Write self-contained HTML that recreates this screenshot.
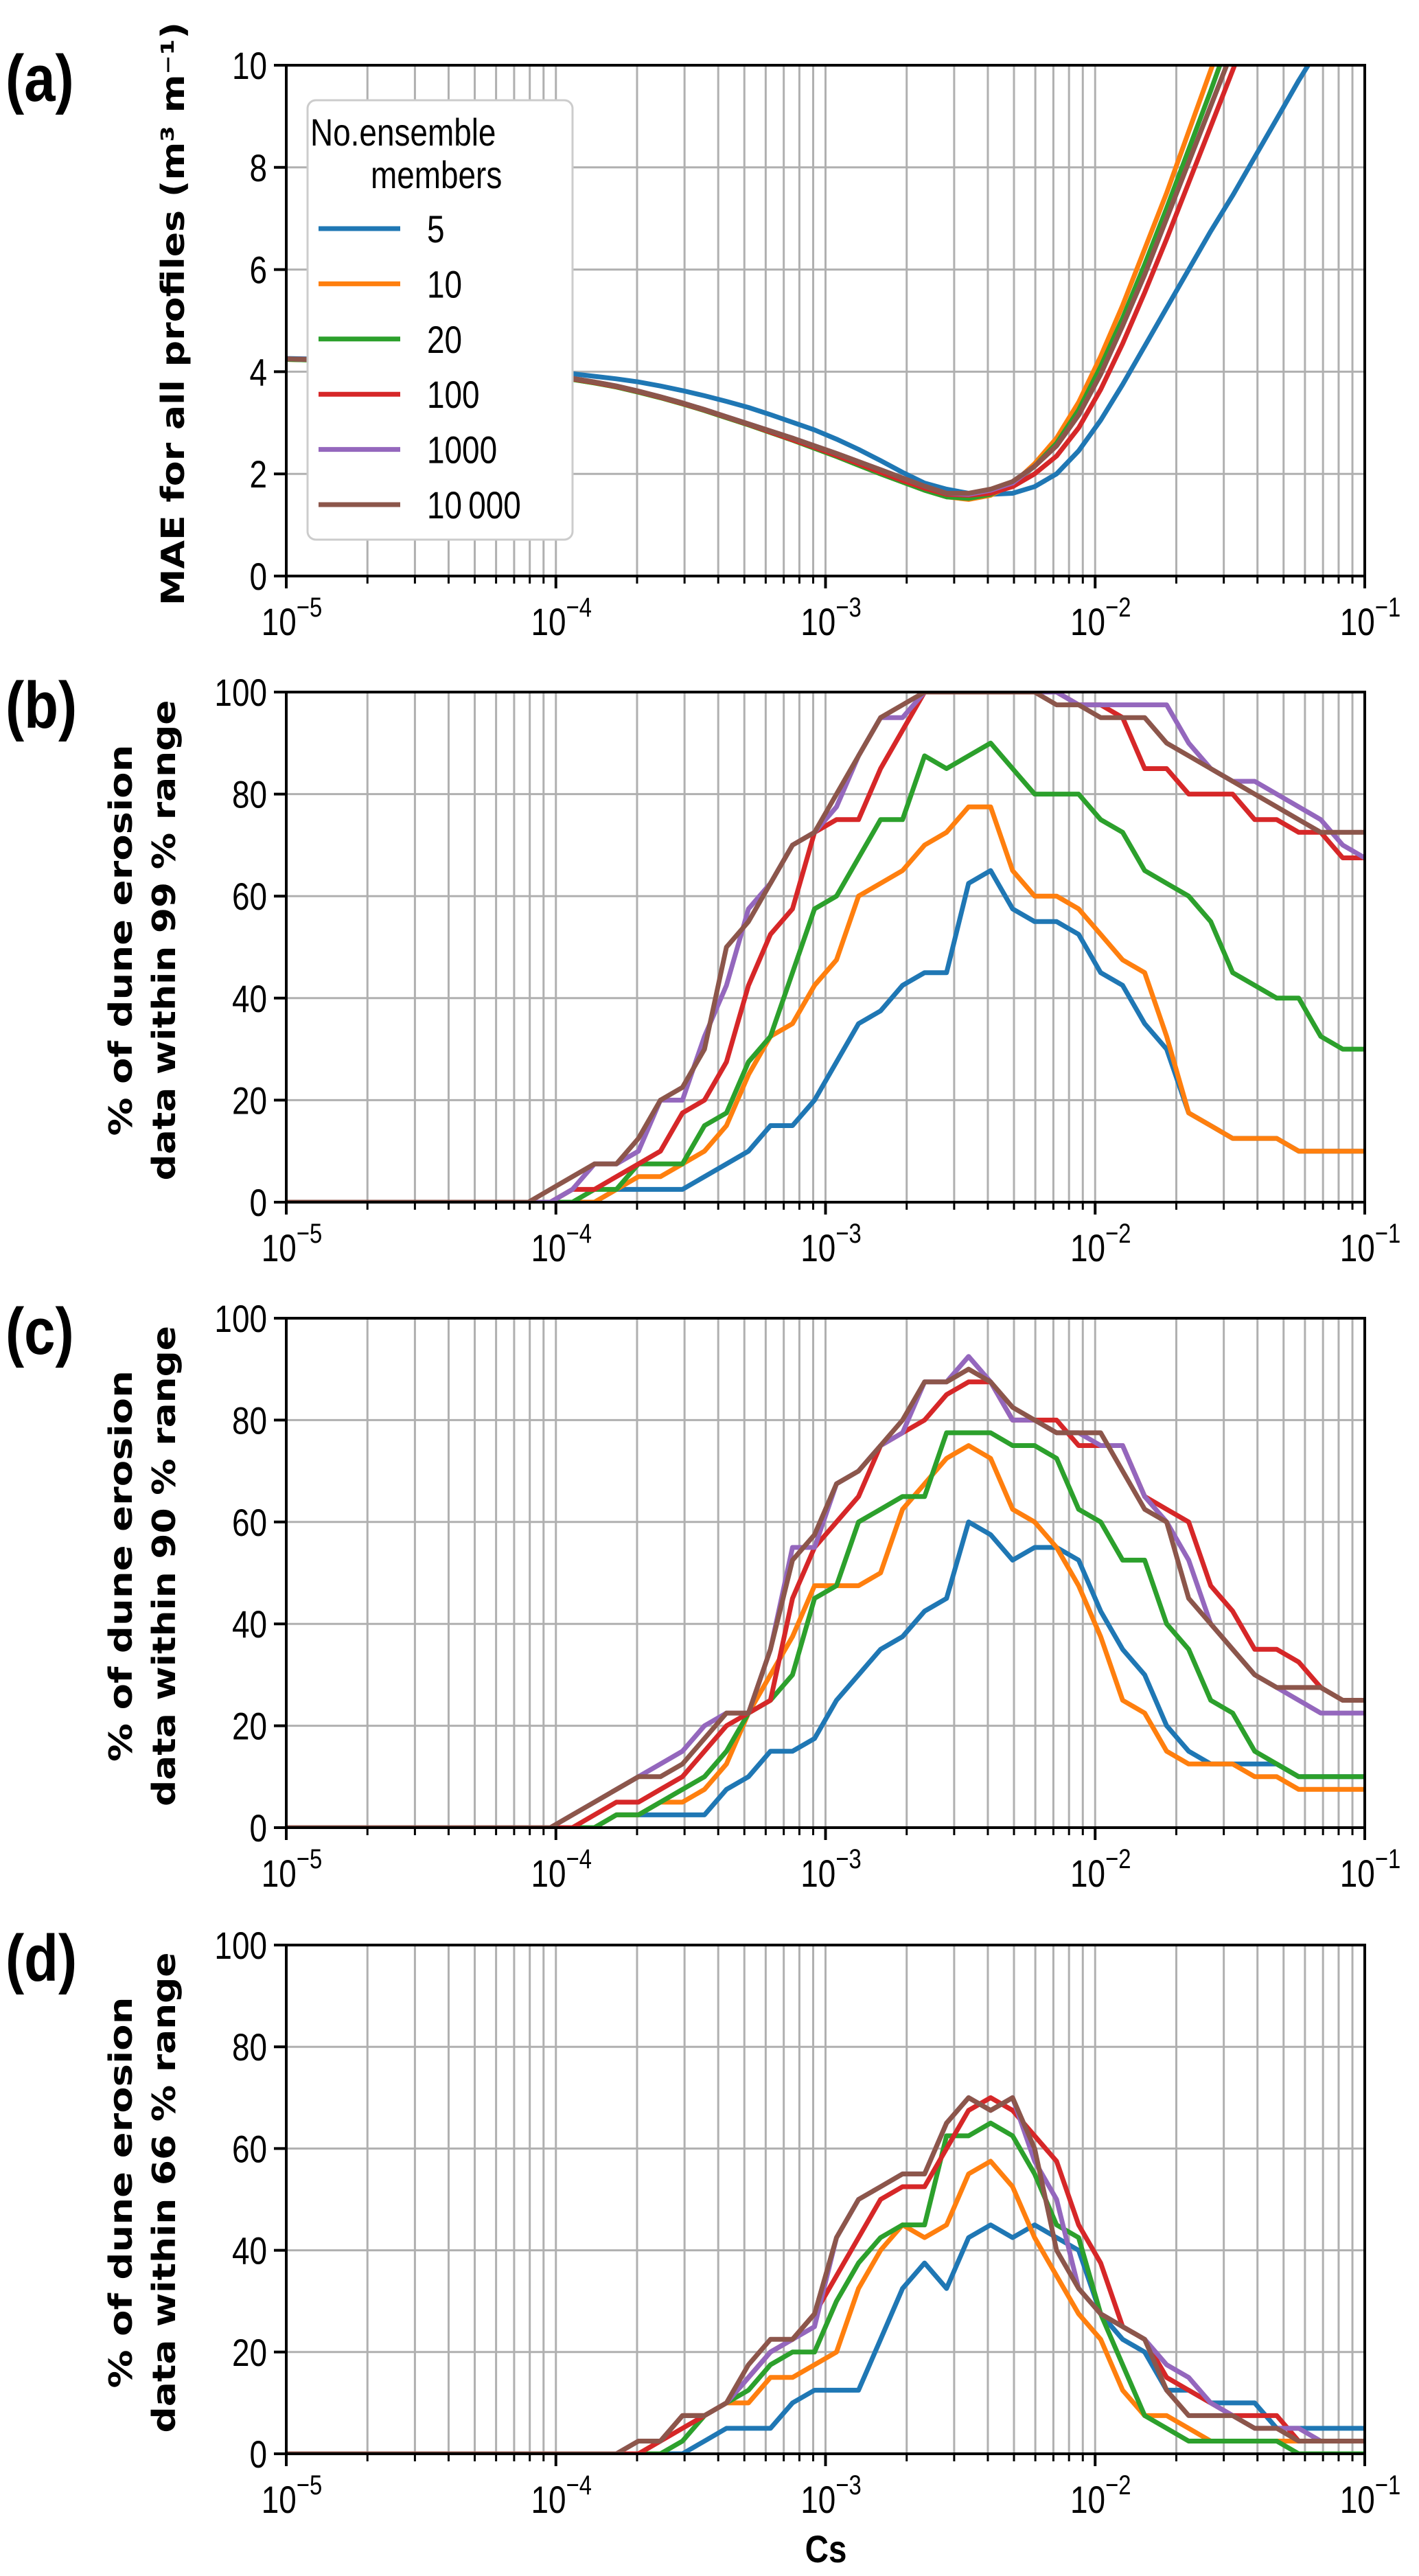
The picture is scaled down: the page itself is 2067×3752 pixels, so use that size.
<!DOCTYPE html>
<html><head><meta charset="utf-8"><style>
html,body{margin:0;padding:0;background:#fff;}
svg{display:block;}
.tk{font-family:"Liberation Sans",sans-serif;font-size:56px;fill:#000;}
.yt{font-family:"DejaVu Sans","Liberation Sans",sans-serif;font-weight:bold;font-size:46px;fill:#000;}
.pl{font-family:"Liberation Sans",sans-serif;font-weight:bold;font-size:96px;fill:#000;}
.lg{font-family:"Liberation Sans",sans-serif;font-size:56px;fill:#000;}
</style></head><body>
<svg id="fig" xmlns="http://www.w3.org/2000/svg" width="2067" height="3752" viewBox="0 0 2067 3752">
<rect width="2067" height="3752" fill="#fff"/>
</svg>
<script>
// ---- data (x points: 50 log-spaced values from 1e-5 to 1e-1) ----
const xLogMin = -5, xLogMax = -1, nPts = 50;
const seriesNames = ["5","10","20","100","1000","10000"];
const seriesLabels = ["5","10","20","100","1000","10\u2009000"];
const colors = ["#1f77b4","#ff7f0e","#2ca02c","#d62728","#9467bd","#8c564b"];

// panel a: MAE
const maeBlue = [4.26,4.25,4.24,4.23,4.22,4.2,4.18,4.16,4.13,4.1,4.07,4.03,4.0,3.96,3.91,3.86,3.8,3.72,3.63,3.53,3.42,3.3,3.16,3.01,2.86,2.68,2.48,2.26,2.03,1.82,1.7,1.62,1.6,1.62,1.75,2.0,2.45,3.05,3.75,4.5,5.25,6.0,6.75,7.45,8.2,8.95,9.7,10.4,11.2,11.9];
const maeOrange = [4.24,4.23,4.22,4.21,4.19,4.17,4.15,4.12,4.09,4.05,4.01,3.96,3.91,3.85,3.78,3.7,3.6,3.49,3.37,3.24,3.1,2.96,2.81,2.66,2.5,2.34,2.17,2.0,1.84,1.68,1.55,1.5,1.58,1.8,2.2,2.7,3.4,4.3,5.3,6.4,7.5,8.7,9.9,11.1,12.3,13.5,14.7,15.9,17.1,18.3];
const maeGreen = [4.24,4.23,4.22,4.21,4.19,4.17,4.15,4.12,4.09,4.05,4.01,3.96,3.91,3.85,3.78,3.7,3.6,3.49,3.37,3.24,3.1,2.96,2.81,2.66,2.5,2.34,2.17,2.0,1.84,1.68,1.55,1.52,1.6,1.8,2.15,2.6,3.25,4.1,5.05,6.1,7.2,8.35,9.5,10.7,11.9,13.1,14.3,15.5,16.7,17.9];
const maeRed = [4.25,4.24,4.23,4.22,4.2,4.18,4.16,4.13,4.1,4.06,4.02,3.97,3.92,3.86,3.79,3.71,3.61,3.5,3.38,3.25,3.11,2.97,2.82,2.67,2.52,2.36,2.2,2.03,1.87,1.72,1.6,1.58,1.62,1.75,2.0,2.35,2.9,3.65,4.55,5.55,6.6,7.7,8.8,9.9,11,12.1,13.2,14.3,15.4,16.5];
const maePurple = [4.25,4.24,4.23,4.22,4.2,4.18,4.16,4.13,4.1,4.06,4.02,3.97,3.92,3.87,3.8,3.72,3.62,3.51,3.39,3.26,3.12,2.98,2.84,2.7,2.55,2.4,2.24,2.08,1.92,1.76,1.62,1.6,1.68,1.82,2.15,2.55,3.15,3.95,4.9,5.9,7.0,8.1,9.2,10.3,11.4,12.5,13.6,14.7,15.8,16.9];
const maeBrown = [4.25,4.24,4.23,4.22,4.2,4.18,4.16,4.13,4.1,4.06,4.02,3.97,3.92,3.87,3.8,3.72,3.62,3.51,3.39,3.26,3.12,2.98,2.84,2.7,2.55,2.4,2.24,2.08,1.92,1.76,1.62,1.62,1.7,1.85,2.15,2.55,3.15,3.95,4.9,5.9,7.0,8.1,9.2,10.3,11.4,12.5,13.6,14.7,15.8,16.9];

// panel b: 99 % range
const b5 = [0,0,0,0,0,0,0,0,0,0,0,0,0,0,0,2.5,2.5,2.5,2.5,5,7.5,10,15,15,20,27.5,35,37.5,42.5,45,45,62.5,65,57.5,55,55,52.5,45,42.5,35,30,17.5,15,12.5,12.5,12.5,10,10,10,10];
const b10 = [0,0,0,0,0,0,0,0,0,0,0,0,0,0,0,2.5,5,5,7.5,10,15,25,32.5,35,42.5,47.5,60,62.5,65,70,72.5,77.5,77.5,65,60,60,57.5,52.5,47.5,45,32.5,17.5,15,12.5,12.5,12.5,10,10,10,10];
const b20 = [0,0,0,0,0,0,0,0,0,0,0,0,0,0,2.5,2.5,7.5,7.5,7.5,15,17.5,27.5,32.5,45,57.5,60,67.5,75,75,87.5,85,87.5,90,85,80,80,80,75,72.5,65,62.5,60,55,45,42.5,40,40,32.5,30,30];
const b100 = [0,0,0,0,0,0,0,0,0,0,0,0,0,2.5,2.5,5,7.5,10,17.5,20,27.5,42.5,52.5,57.5,72.5,75,75,85,92.5,100,100,100,100,100,100,100,97.5,97.5,95,85,85,80,80,80,75,75,72.5,72.5,67.5,67.5];
const b1000 = [0,0,0,0,0,0,0,0,0,0,0,0,0,2.5,7.5,7.5,10,20,20,32.5,42.5,57.5,62.5,70,72.5,77.5,87.5,95,95,100,100,100,100,100,100,100,97.5,97.5,97.5,97.5,97.5,90,85,82.5,82.5,80,77.5,75,70,67.5];
const b10000 = [0,0,0,0,0,0,0,0,0,0,0,0,2.5,5,7.5,7.5,12.5,20,22.5,30,50,55,62.5,70,72.5,80,87.5,95,97.5,100,100,100,100,100,100,97.5,97.5,95,95,95,90,87.5,85,82.5,80,77.5,75,72.5,72.5,72.5];

// panel c: 90 % range
const c5 = [0,0,0,0,0,0,0,0,0,0,0,0,0,0,0,2.5,2.5,2.5,2.5,2.5,7.5,10,15,15,17.5,25,30,35,37.5,42.5,45,60,57.5,52.5,55,55,52.5,42.5,35,30,20,15,12.5,12.5,12.5,12.5,10,10,10,10];
const c10 = [0,0,0,0,0,0,0,0,0,0,0,0,0,0,0,2.5,2.5,5,5,7.5,12.5,22.5,30,37.5,47.5,47.5,47.5,50,62.5,67.5,72.5,75,72.5,62.5,60,55,47.5,37.5,25,22.5,15,12.5,12.5,12.5,10,10,7.5,7.5,7.5,7.5];
const c20 = [0,0,0,0,0,0,0,0,0,0,0,0,0,0,0,2.5,2.5,5,7.5,10,15,22.5,25,30,45,47.5,60,62.5,65,65,77.5,77.5,77.5,75,75,72.5,62.5,60,52.5,52.5,40,35,25,22.5,15,12.5,10,10,10,10];
const c100 = [0,0,0,0,0,0,0,0,0,0,0,0,0,0,2.5,5,5,7.5,10,15,20,22.5,25,45,55,60,65,75,77.5,80,85,87.5,87.5,80,80,80,75,75,75,65,62.5,60,47.5,42.5,35,35,32.5,27.5,25,25];
const c1000 = [0,0,0,0,0,0,0,0,0,0,0,0,0,2.5,5,7.5,10,12.5,15,20,22.5,22.5,35,55,55,67.5,70,75,77.5,87.5,87.5,92.5,87.5,80,80,77.5,77.5,75,75,65,60,52.5,40,35,30,27.5,25,22.5,22.5,22.5];
const c10000 = [0,0,0,0,0,0,0,0,0,0,0,0,0,2.5,5,7.5,10,10,12.5,17.5,22.5,22.5,35,52.5,57.5,67.5,70,75,80,87.5,87.5,90,87.5,82.5,80,77.5,77.5,77.5,70,62.5,60,45,40,35,30,27.5,27.5,27.5,25,25];

// panel d: 66 % range
const d5 = [0,0,0,0,0,0,0,0,0,0,0,0,0,0,0,0,0,0,0,2.5,5,5,5,10,12.5,12.5,12.5,22.5,32.5,37.5,32.5,42.5,45,42.5,45,42.5,40,27.5,22.5,20,12.5,12.5,10,10,10,5,5,5,5,5];
const d10 = [0,0,0,0,0,0,0,0,0,0,0,0,0,0,0,0,0,2.5,7.5,7.5,10,10,15,15,17.5,20,32.5,40,45,42.5,45,55,57.5,52.5,42.5,35,27.5,22.5,12.5,7.5,7.5,5,2.5,2.5,2.5,2.5,2.5,2.5,2.5,2.5];
const d20 = [0,0,0,0,0,0,0,0,0,0,0,0,0,0,0,0,0,0,2.5,7.5,10,12.5,17.5,20,20,30,37.5,42.5,45,45,62.5,62.5,65,62.5,55,45,42.5,27.5,17.5,7.5,5,2.5,2.5,2.5,2.5,2.5,0,0,0,0];
const d100 = [0,0,0,0,0,0,0,0,0,0,0,0,0,0,0,0,0,2.5,5,7.5,10,15,20,22.5,27.5,35,42.5,50,52.5,52.5,60,67.5,70,67.5,62.5,57.5,45,37.5,25,22.5,15,12.5,10,7.5,7.5,7.5,2.5,2.5,2.5,2.5];
const d1000 = [0,0,0,0,0,0,0,0,0,0,0,0,0,0,0,0,2.5,2.5,7.5,7.5,10,15,20,22.5,25,42.5,50,52.5,55,55,65,70,67.5,70,57.5,50,32.5,27.5,25,22.5,17.5,15,10,7.5,5,5,5,2.5,2.5,2.5];
const d10000 = [0,0,0,0,0,0,0,0,0,0,0,0,0,0,0,0,2.5,2.5,7.5,7.5,10,17.5,22.5,22.5,27.5,42.5,50,52.5,55,55,65,70,67.5,70,60,40,32.5,27.5,25,22.5,12.5,7.5,7.5,7.5,5,5,2.5,2.5,2.5,2.5];

const yTicksA = [0,2,4,6,8,10];
const yTicksPct = [0,20,40,60,80,100];
const xTickExps = [-5,-4,-3,-2,-1];

// ---- layout ----
const NS = "http://www.w3.org/2000/svg";
const svg = document.getElementById('fig');
const X0 = 417, X1 = 1988;
const NARROW = 0.82;
function xScale(logv){ return X0 + (logv - xLogMin) / (xLogMax - xLogMin) * (X1 - X0); }
function el(tag, attrs, parent){ const e = document.createElementNS(NS, tag); for (const k in attrs) e.setAttribute(k, attrs[k]); (parent||svg).appendChild(e); return e; }

const panels = [
  {id:'a', top:95, bot:839, ymax:10, ticks:yTicksA, data:[maeBlue,maeOrange,maeGreen,maeRed,maePurple,maeBrown], title:['MAE for all profiles (m\u00B3 m\u207B\u00B9)'], tLen:[850]},
  {id:'b', top:1008, bot:1751, ymax:100, ticks:yTicksPct, data:[b5,b10,b20,b100,b1000,b10000], title:['% of dune erosion','data within 99 % range'], tLen:[570,700]},
  {id:'c', top:1920, bot:2662, ymax:100, ticks:yTicksPct, data:[c5,c10,c20,c100,c1000,c10000], title:['% of dune erosion','data within 90 % range'], tLen:[570,700]},
  {id:'d', top:2833, bot:3574, ymax:100, ticks:yTicksPct, data:[d5,d10,d20,d100,d1000,d10000], title:['% of dune erosion','data within 66 % range'], tLen:[570,700]}
];

panels.forEach(p => {
  const g = el('g', {});
  
  
  const yS = v => p.bot - v / p.ymax * (p.bot - p.top);
  const cp = el('clipPath', {id:'clip-' + p.id}, g);
  el('rect', {x:X0, y:p.top, width:X1-X0, height:p.bot-p.top}, cp);
  const grid = el('g', {stroke:'#b0b0b0', 'stroke-width':3}, g);
  
  
  for (let e = -5; e < -1; e++) {
    for (let m = 1; m <= 9; m++) {
      const x = xScale(e + Math.log10(m));
      if (x <= X0 + 1) continue;
      el('line', {x1:x, x2:x, y1:p.top, y2:p.bot}, grid);
    }
  }
  p.ticks.forEach(t => { const y = yS(t); el('line', {x1:X0, x2:X1, y1:y, y2:y}, grid); });
  const sg = el('g', {'clip-path':'url(#clip-' + p.id + ')', fill:'none', 'stroke-width':7, 'stroke-linejoin':'round'}, g);
  p.data.forEach((arr, si) => {
    const pts = arr.map((v, j) => xScale(xLogMin + j * (xLogMax - xLogMin) / (nPts - 1)).toFixed(1) + ',' + yS(v).toFixed(1)).join(' ');
    const pl = el('polyline', {points:pts, stroke:colors[si]}, sg);
    
    
  });
  const sp = el('rect', {x:X0, y:p.top, width:X1-X0, height:p.bot-p.top, fill:'none', stroke:'#000', 'stroke-width':4}, g);
  
  
  const tg = el('g', {stroke:'#000'}, g);
  for (let e = -5; e < -1; e++) {
    for (let m = 2; m <= 9; m++) {
      const x = xScale(e + Math.log10(m));
      el('line', {x1:x, x2:x, y1:p.bot, y2:p.bot + 11, 'stroke-width':3}, tg);
    }
  }
  xTickExps.forEach(e => {
    const x = xScale(e);
    el('line', {x1:x, x2:x, y1:p.bot, y2:p.bot + 18, 'stroke-width':4}, tg);
    const t = el('text', {x:0, y:0, transform:'translate(' + (x + 8) + ',' + (p.bot + 86) + ') scale(' + NARROW + ',1)', 'text-anchor':'middle', class:'tk'}, g);
    
    
    const t1 = el('tspan', {}, t); t1.textContent = '10';
    const t2 = el('tspan', {dy:-27, 'font-size':40}, t); t2.textContent = '\u2212' + Math.abs(e);
  });
  p.ticks.forEach(v => {
    const y = yS(v);
    el('line', {x1:X0 - 18, x2:X0, y1:y, y2:y, 'stroke-width':4}, tg);
    const t = el('text', {x:0, y:0, transform:'translate(' + (X0 - 28) + ',' + (y + 20) + ') scale(' + NARROW + ',1)', 'text-anchor':'end', class:'tk'}, g);
    
    
    t.textContent = v;
  });
  const cy = (p.top + p.bot) / 2;
  const xs = p.title.length === 1 ? [268] : [192, 255];
  p.title.forEach((s, i) => {
    const t = el('text', {x:xs[i], y:cy - 10, transform:'rotate(-90 ' + xs[i] + ' ' + (cy - 10) + ')', 'text-anchor':'middle', class:'yt', textLength:p.tLen[i], lengthAdjust:'spacingAndGlyphs'}, g);
    
    
    t.textContent = s;
  });
  const pl = el('text', {x:0, y:0, transform:'translate(8,' + (p.top + 52) + ') scale(0.85,1)', class:'pl'}, g);
  
  
  pl.textContent = '(' + p.id + ')';
});

const xt = el('text', {x:0, y:0, transform:'translate(1203,3732) scale(0.85,1)', 'text-anchor':'middle', class:'tk', 'font-weight':'bold', 'font-size':62});


xt.textContent = 'Cs';

const lg = el('g', {});


el('rect', {x:448, y:146, width:386, height:640, rx:12, fill:'#fff', stroke:'#cccccc', 'stroke-width':3}, lg);
const lt1 = el('text', {x:0, y:0, transform:'translate(452,212) scale(' + NARROW + ',1)', class:'lg'}, lg);


lt1.textContent = 'No.ensemble';
const lt2 = el('text', {x:0, y:0, transform:'translate(540,274) scale(' + NARROW + ',1)', class:'lg'}, lg);


lt2.textContent = 'members';
seriesNames.forEach((n, i) => {
  const y = 333 + i * 80.4;
  const ln = el('line', {x1:464, x2:583, y1:y, y2:y, stroke:colors[i], 'stroke-width':7}, lg);
  
  
  const t = el('text', {x:0, y:0, transform:'translate(622,' + (y + 20) + ') scale(' + NARROW + ',1)', class:'lg'}, lg);
  
  
  t.textContent = seriesLabels[i];
});
</script>
</body></html>
